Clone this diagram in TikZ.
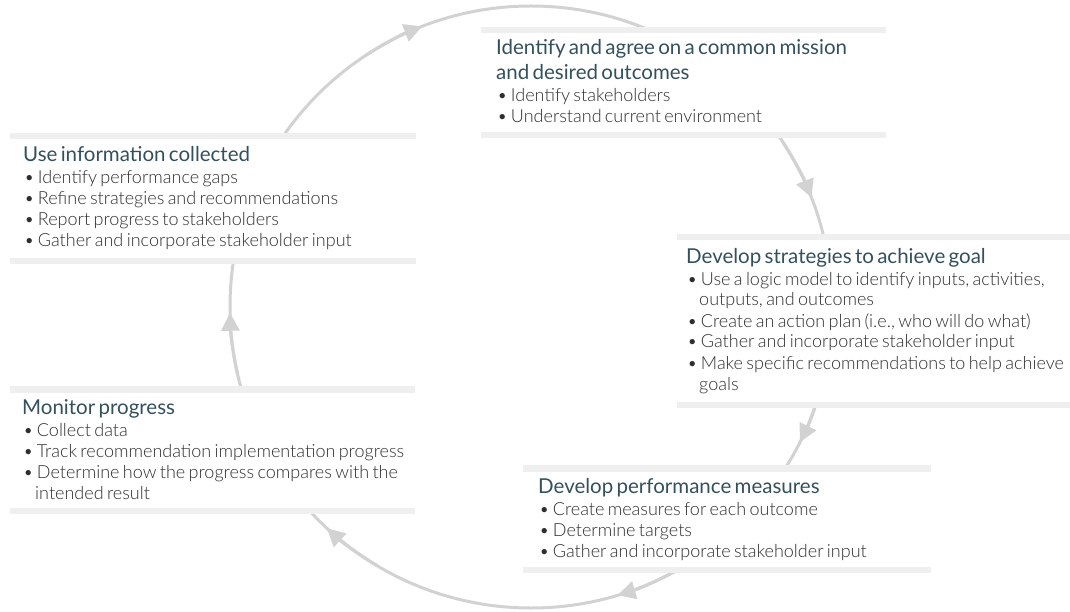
\documentclass[tikz,border=0pt]{standalone}
\usepackage{fontspec}
\setmainfont{Lato}
\newfontfamily\lightf{Lato Light}
\usetikzlibrary{arrows.meta}
\definecolor{barc}{HTML}{EFEFEF}
\definecolor{arcc}{HTML}{D2D2D2}
\definecolor{tipc}{HTML}{CCCCCC}
\definecolor{titlec}{HTML}{33505F}
\definecolor{textc}{HTML}{2E2E2E}
\newcommand\ttl[1]{{\fontsize{20.5}{25}\selectfont\color{titlec}#1\par}\vskip1pt}
\newcommand\bul[1]{{\lightf\fontsize{18}{21}\selectfont\leftskip=1pt\hangindent=12pt\hangafter=1 \textbullet\ #1\par}}
\newcommand\boxbars[1]{%
  \fill[barc] (#1.north west) rectangle ([yshift=-6.5pt]#1.north east);
  \fill[barc] ([yshift=6.5pt]#1.south west) rectangle (#1.south east);}
\newcommand\tipat[1]{%
  \draw[cyc,-{Triangle[width=18pt,length=18pt]}] (c) ++(#1+12:301) arc[start angle=#1+12, end angle=#1, radius=301];}
\tikzset{
  panel/.style={fill=white, inner sep=0pt, anchor=north west},
  txtblk/.style={anchor=base west, text width=430pt, align=left, inner sep=0pt, text=textc},
  cyc/.style={draw=arcc, line width=3pt}
}
\begin{document}
\begin{tikzpicture}[x=1pt,y=1pt]
\useasboundingbox (0,0) rectangle (1070,-612);
\fill[white] (0,0) rectangle (1070,-612);
% cycle
\coordinate (c) at (531,-307);
\draw[cyc] (c) circle[radius=301];
\tipat{111.2}
\tipat{21.3}
\tipat{-26.7}
\tipat{-73.3}
\tipat{-132.7}
\tipat{181.1}
% panels
\node[panel, minimum width=405pt, minimum height=111pt] (mission) at (481,-27) {};
\node[panel, minimum width=406pt, minimum height=131pt] (use) at (10,-133) {};
\node[panel, minimum width=393pt, minimum height=174pt] (strat) at (677,-234) {};
\node[panel, minimum width=405pt, minimum height=128pt] (monitor) at (10,-386) {};
\node[panel, minimum width=408pt, minimum height=108pt] (measures) at (523,-465) {};
\boxbars{mission}
\boxbars{use}
\boxbars{strat}
\boxbars{monitor}
\boxbars{measures}
% texts
\node[txtblk] (missiontxt) at (496,-55) {%
  \ttl{Identify and agree on a common mission\newline and desired outcomes}%
  \bul{Identify stakeholders}%
  \bul{Understand current environment}};
\node[txtblk] (usetxt) at (23,-162) {%
  \ttl{Use information collected}%
  \bul{Identify performance gaps}%
  \bul{Refine strategies and recommendations}%
  \bul{Report progress to stakeholders}%
  \bul{Gather and incorporate stakeholder input}};
\node[txtblk] (strattxt) at (686,-263) {%
  \ttl{Develop strategies to achieve goal}%
  \bul{Use a logic model to identify inputs, activities,\newline outputs, and outcomes}%
  \bul{Create an action plan (i.e., who will do what)}%
  \bul{Gather and incorporate stakeholder input}%
  \bul{Make specific recommendations to help achieve\newline goals}};
\node[txtblk] (monitortxt) at (22,-414) {%
  \ttl{Monitor progress}%
  \bul{Collect data}%
  \bul{Track recommendation implementation progress}%
  \bul{Determine how the progress compares with the\newline intended result}};
\node[txtblk] (measurestxt) at (538,-493) {%
  \ttl{Develop performance measures}%
  \bul{Create measures for each outcome}%
  \bul{Determine targets}%
  \bul{Gather and incorporate stakeholder input}};
\end{tikzpicture}
\end{document}
